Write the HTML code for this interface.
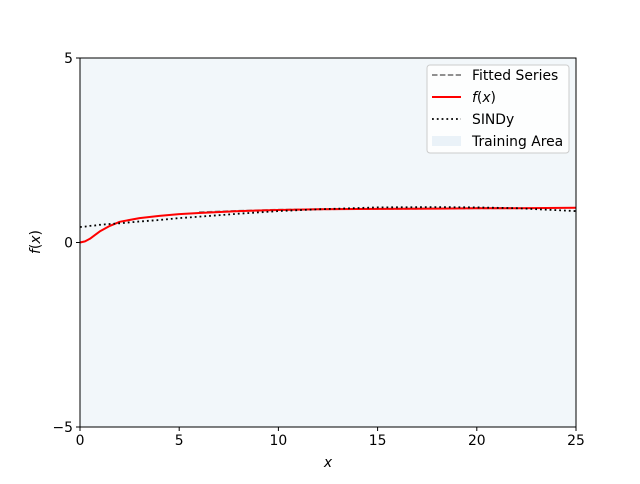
<!DOCTYPE html>
<html><head><meta charset="utf-8"><style>
body{margin:0;background:#fff;font-family:"DejaVu Sans","Liberation Sans",sans-serif;}
text{font-family:"DejaVu Sans","Liberation Sans",sans-serif;font-size:13.9px;fill:#000}
</style></head><body>
<svg id="chart" width="640" height="480" xmlns="http://www.w3.org/2000/svg">
<rect x="0" y="0" width="640" height="480" fill="#fff"/>
<g id="plot"></g>
</svg>
<script>
const xs=[0,0.25,0.5,0.75,1,1.5,2,3,4,5,6,8,10,12,15,18,20,22,25];
const fVals=[0,0.03,0.1,0.2,0.3,0.45,0.56,0.66,0.72,0.77,0.8,0.85,0.88,0.9,0.91,0.92,0.93,0.93,0.94];
const sindyVals=[0.42,0.43,0.45,0.46,0.48,0.5,0.52,0.57,0.61,0.66,0.7,0.78,0.85,0.9,0.95,0.96,0.95,0.93,0.85];
const fitXs=[6,8,10,12,15,18,20,22];
const fitVals=[0.82,0.86,0.89,0.9,0.91,0.92,0.93,0.93];
const xTicks=[0,5,10,15,20,25];
const yTicks=[-5,0,5];
const NS="http://www.w3.org/2000/svg";
const L=80,R=576,T=58,B=427;
const sx=v=>L+(v-0)/25*(R-L);
const sy=v=>B-(v+5)/10*(B-T);
const g=document.getElementById('plot');
function mk(t,a){const e=document.createElementNS(NS,t);for(const k in a)e.setAttribute(k,a[k]);g.appendChild(e);return e;}
let e=mk('rect',{x:L,y:T,width:R-L,height:B-T,fill:'#f2f7fa'});


function line(X,Y,attrs,name){const d=X.map((x,i)=>(i?'L':'M')+sx(x).toFixed(1)+','+sy(Y[i]).toFixed(1)).join('');const p=mk('path',Object.assign({d:d,fill:'none','stroke-linejoin':'round'},attrs));

}
line(fitXs,fitVals,{stroke:'#808080','stroke-width':1.8,'stroke-dasharray':'5.5,2.4'},'fitted-series-line');
line(xs,fVals,{stroke:'#ff0000','stroke-width':2},'fx-line');
line(xs,sindyVals,{stroke:'#000','stroke-width':1.8,'stroke-dasharray':'1.8,3'},'sindy-line');
e=mk('rect',{x:L,y:T,width:R-L,height:B-T,fill:'none',stroke:'#000','stroke-width':1});


xTicks.forEach(v=>{const x=sx(v);mk('line',{x1:x,x2:x,y1:B,y2:B+4,stroke:'#000'});
const t=mk('text',{x:x,y:B+18,'text-anchor':'middle'});t.textContent=v;

});
yTicks.forEach(v=>{const y=sy(v);mk('line',{x1:L-4,x2:L,y1:y,y2:y,stroke:'#000'});
const t=mk('text',{x:L-7,y:y+5,'text-anchor':'end'});t.textContent=(v<0?'\u2212'+(-v):v);

});
e=mk('text',{x:328,y:467,'text-anchor':'middle','font-style':'italic'});e.textContent='x';


e=mk('text',{x:0,y:0,'text-anchor':'middle',transform:'translate(40,242) rotate(-90)'});e.innerHTML='<tspan font-style="italic">f</tspan>(<tspan font-style="italic">x</tspan>)';


const lg=document.createElementNS(NS,'g');g.appendChild(lg);


function la(t,a){const q=document.createElementNS(NS,t);for(const k in a)q.setAttribute(k,a[k]);lg.appendChild(q);return q;}
la('rect',{x:427,y:65,width:142,height:88,rx:3,fill:'#fff','fill-opacity':0.8,stroke:'#ccc'});
const items=[['Fitted Series',{stroke:'#808080','stroke-dasharray':'5.5,2.4','stroke-width':1.8}],['f(x)',{stroke:'#f00','stroke-width':2}],['SINDy',{stroke:'#000','stroke-dasharray':'1.8,3','stroke-width':1.8}],['Training Area',null]];
items.forEach((it,i)=>{const y=75+i*22;
if(it[1])la('line',Object.assign({x1:432,x2:461,y1:y,y2:y},it[1]));else la('rect',{x:432,y:y-5,width:29,height:10,fill:'#eaf2f8'});
const t=la('text',{x:472,y:y+5});
if(i==1)t.innerHTML='<tspan font-style="italic">f</tspan>(<tspan font-style="italic">x</tspan>)';else t.textContent=it[0];

});
</script>
</body></html>
